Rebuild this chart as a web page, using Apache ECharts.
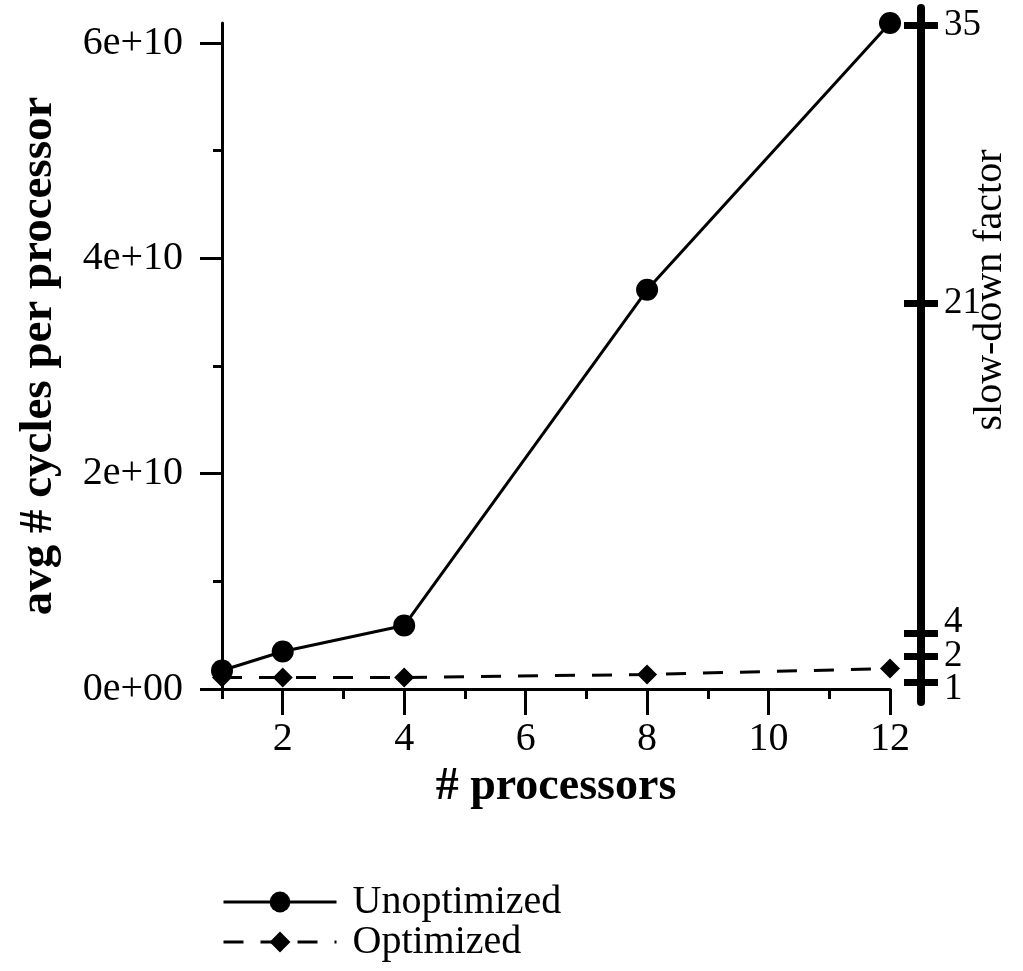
<!DOCTYPE html>
<html>
<head>
<meta charset="utf-8">
<script src="https://cdn.jsdelivr.net/npm/echarts@6/dist/echarts.min.js"></script>
<style>
html,body{margin:0;padding:0;background:#fff;}
#chart{width:1023px;height:971px;}
</style>
</head>
<body>
<div id="chart"></div>
<script>
// ---- data ----
const processors = [1, 2, 4, 8, 12];
const unoptimized = [1.72e9, 3.48e9, 5.89e9, 3.708e10, 6.186e10];
const optimized = [1.07e9, 1.07e9, 1.07e9, 1.35e9, 1.9e9];
const yMajorTicks = [0, 2e10, 4e10, 6e10];
const yMinorTicks = [1e10, 3e10, 5e10];
const xMajorTicks = [2, 4, 6, 8, 10, 12];
const xMinorTicks = [1, 3, 5, 7, 9, 11];
const slowdownLabels = ['1', '2', '4', '21', '35'];
const slowdownTickCycles = [6.0e8, 3.02e9, 5.15e9, 3.587e10, 6.167e10];
const seriesNames = ['Unoptimized', 'Optimized'];

const FONT = "'Liberation Serif', 'Times New Roman', serif";

function fmtExp(v) {
  if (v === 0) return '0e+00';
  const e = Math.floor(Math.log10(v) + 1e-9);
  const m = Math.round(v / Math.pow(10, e));
  return m + 'e+' + String(e).padStart(2, '0');
}

function slowLabel(v) {
  const idx = slowdownTickCycles.indexOf(v);
  const t = slowdownLabels[idx];
  if (t === '4') return '{up|' + t + '}';
  if (t === '1') return '{down|' + t + '}';
  return '{n|' + t + '}';
}

// split right-axis labels over two overlaid axes so neighbours never hide each other
const slowEven = slowdownTickCycles.filter((_, i) => i % 2 === 0);
const slowOdd = slowdownTickCycles.filter((_, i) => i % 2 === 1);

const leftMax = 6.186e10;
const rightMin = -1.207e9;
const rightMax = 6.325e10;

const richRight = {
  n: { fontFamily: FONT, fontSize: 37, color: '#000' },
  up: { fontFamily: FONT, fontSize: 37, color: '#000', padding: [0, 0, 22, 0] },
  down: { fontFamily: FONT, fontSize: 37, color: '#000', padding: [14, 0, 0, 0] }
};

const chart = echarts.init(document.getElementById('chart'));
chart.setOption({
  animation: false,
  backgroundColor: '#fff',
  textStyle: { fontFamily: FONT, color: '#000' },
  grid: [
    { left: 222, right: 133, top: 23, bottom: 282, containLabel: false, outerBoundsMode: 'none' },
    { left: 222, right: 102, top: 8, bottom: 269, containLabel: false, outerBoundsMode: 'none' }
  ],
  xAxis: [
    {
      type: 'value', gridIndex: 0, min: 1, max: 12,
      name: '# processors', nameLocation: 'middle', nameGap: 66,
      nameTextStyle: { fontFamily: FONT, fontWeight: 'bold', fontSize: 46, color: '#000' },
      axisLine: { show: true, onZero: false, lineStyle: { color: '#000', width: 3 } },
      axisTick: { show: true, customValues: xMajorTicks, length: 26, lineStyle: { color: '#000', width: 3 } },
      axisLabel: { show: true, customValues: xMajorTicks, margin: 30, fontFamily: FONT, fontSize: 40, color: '#000' },
      splitLine: { show: false }
    },
    {
      type: 'value', gridIndex: 0, min: 1, max: 12, position: 'bottom',
      axisLine: { show: false, onZero: false },
      axisTick: { show: true, customValues: xMinorTicks, length: 10, lineStyle: { color: '#000', width: 3 } },
      axisLabel: { show: false },
      splitLine: { show: false }
    },
    {
      type: 'value', gridIndex: 1, min: 0, max: 1, show: false,
      axisLine: { onZero: false }
    }
  ],
  yAxis: [
    {
      type: 'value', gridIndex: 0, min: 0, max: leftMax, position: 'left',
      name: 'avg # cycles per processor', nameLocation: 'middle', nameGap: 160,
      nameTextStyle: { fontFamily: FONT, fontWeight: 'bold', fontSize: 47, color: '#000' },
      axisLine: { show: true, onZero: false, lineStyle: { color: '#000', width: 3 } },
      axisTick: { show: true, customValues: yMajorTicks, length: 22, lineStyle: { color: '#000', width: 3 } },
      axisLabel: { show: true, customValues: yMajorTicks, margin: 39, fontFamily: FONT, fontSize: 40, color: '#000', formatter: fmtExp },
      splitLine: { show: false }
    },
    {
      type: 'value', gridIndex: 0, min: 0, max: leftMax, position: 'left',
      axisLine: { show: false, onZero: false },
      axisTick: { show: true, customValues: yMinorTicks, length: 9, lineStyle: { color: '#000', width: 3 } },
      axisLabel: { show: false },
      splitLine: { show: false }
    },
    {
      type: 'value', gridIndex: 1, min: rightMin, max: rightMax, position: 'right',
      name: 'slow-down factor', nameLocation: 'middle', nameGap: 49, nameMoveOverlap: false,
      nameTextStyle: { fontFamily: FONT, fontSize: 40, color: '#000', padding: [0, 0, 0, 130] },
      axisLine: { show: true, onZero: false, lineStyle: { color: '#000', width: 8 } },
      axisTick: { show: true, customValues: slowdownTickCycles, length: 17, lineStyle: { color: '#000', width: 7 } },
      axisLabel: {
        show: true, customValues: slowEven, margin: 23, color: '#000',
        hideOverlap: false, showMinLabel: true, showMaxLabel: true,
        formatter: slowLabel, rich: richRight
      },
      splitLine: { show: false }
    },
    {
      type: 'value', gridIndex: 1, min: rightMin, max: rightMax, position: 'right',
      axisLine: { show: false, onZero: false },
      axisTick: { show: true, inside: true, customValues: slowdownTickCycles, length: 17, lineStyle: { color: '#000', width: 7 } },
      axisLabel: {
        show: true, inside: false, customValues: slowOdd, margin: 23, color: '#000',
        hideOverlap: false, showMinLabel: true, showMaxLabel: true,
        formatter: slowLabel, rich: richRight
      },
      splitLine: { show: false }
    }
  ],
  legend: {
    orient: 'vertical', left: 222, top: 882, padding: 0,
    itemWidth: 113, itemHeight: 26, itemGap: 0,
    data: seriesNames,
    lineStyle: { width: 3 },
    textStyle: { fontFamily: FONT, fontSize: 40, color: '#000', padding: [0, 0, 0, 11] }
  },
  series: [
    {
      name: seriesNames[0], type: 'line', xAxisIndex: 0, yAxisIndex: 0,
      data: processors.map((p, i) => [p, unoptimized[i]]),
      symbol: 'circle', symbolSize: 22,
      lineStyle: { color: '#000', width: 3 },
      itemStyle: { color: '#000' },
      clip: false
    },
    {
      name: seriesNames[1], type: 'line', xAxisIndex: 0, yAxisIndex: 0,
      data: processors.map((p, i) => [p, optimized[i]]),
      symbol: 'diamond', symbolSize: 20,
      lineStyle: { color: '#000', width: 3, type: [20, 17] },
      itemStyle: { color: '#000' },
      clip: false
    }
  ]
});
</script>
</body>
</html>
